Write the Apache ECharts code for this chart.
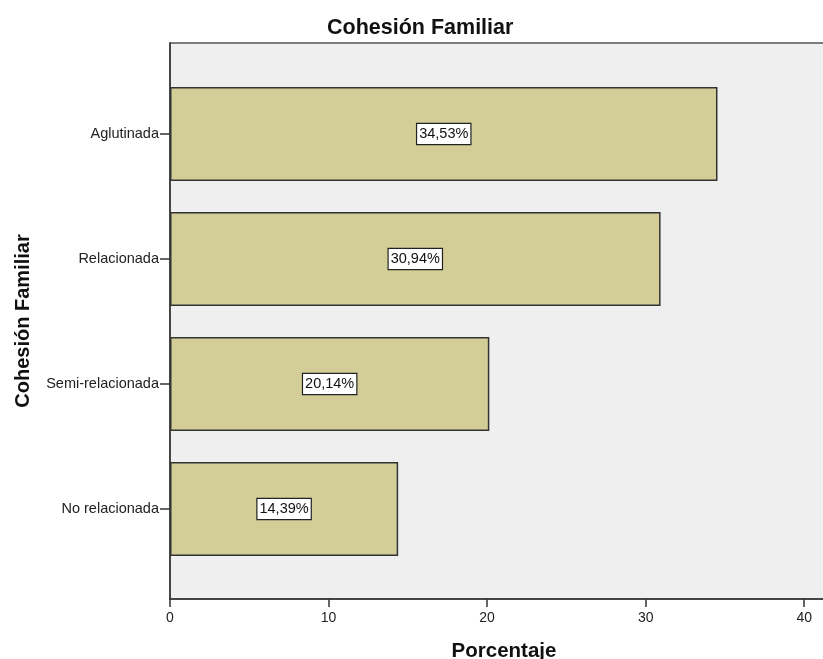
<!DOCTYPE html>
<html>
<head>
<meta charset="utf-8">
<script src="https://cdn.jsdelivr.net/npm/echarts@6/dist/echarts.min.js"></script>
<style>
  html, body { margin: 0; padding: 0; background: #fff; }
  #chart { width: 823px; height: 659px; }
</style>
</head>
<body>
<div id="chart"></div>
<script>
// Categories listed top to bottom
const categories = ['Aglutinada', 'Relacionada', 'Semi-relacionada', 'No relacionada'];
const percentages = [34.53, 30.94, 20.14, 14.39];
const xTickValues = [0, 10, 20, 30, 40];

const chartTitle = 'Cohesión Familiar';
const xAxisName = 'Porcentaje';
const yAxisName = 'Cohesión Familiar';

const FONT = 'Arial, "Liberation Sans", sans-serif';
const X_MAX = 41.5;

const chart = echarts.init(document.getElementById('chart'), null, { renderer: 'canvas' });

function fmtPct(v) {
  return v.toFixed(2).replace('.', ',') + '%';
}

chart.setOption({
  animation: false,
  title: {
    text: chartTitle,
    left: 322,
    top: 12,
    textStyle: { fontFamily: FONT, fontSize: 21.5, fontWeight: 'bold', color: '#111' }
  },
  grid: [
    {
      // outer frame with the grey plot background
      left: 170, top: 43, right: -5, bottom: 60,
      outerBoundsMode: 'none',
      containLabel: false,
      show: true,
      backgroundColor: '#efefef',
      borderColor: '#555',
      borderWidth: 1.5
    },
    {
      // inner band for the bars
      left: 170, top: 71.5, right: -5, height: 500,
      outerBoundsMode: 'none',
      containLabel: false
    }
  ],
  xAxis: [
    {
      gridIndex: 0,
      type: 'value',
      min: 0,
      max: X_MAX,
      interval: 10,
      name: xAxisName,
      nameLocation: 'middle',
      nameGap: 42,
      nameTextStyle: {
        fontFamily: FONT, fontSize: 20.5, fontWeight: 'bold', color: '#111',
        padding: [0, 0, 0, 10]
      },
      axisLine: { show: true, lineStyle: { color: '#333', width: 1.5 } },
      axisTick: { show: true, length: 8, lineStyle: { color: '#333', width: 1.5 } },
      axisLabel: {
        fontFamily: FONT, fontSize: 14, color: '#222', margin: 12,
        showMaxLabel: false,
        formatter: v => (xTickValues.indexOf(v) >= 0 ? String(v) : '')
      },
      splitLine: { show: false }
    },
    {
      gridIndex: 1,
      type: 'value',
      min: 0,
      max: X_MAX,
      show: false
    }
  ],
  yAxis: [
    {
      gridIndex: 0,
      type: 'value',
      min: 0,
      max: 1,
      name: yAxisName,
      nameLocation: 'middle',
      nameGap: 137,
      nameRotate: 90,
      nameTextStyle: { fontFamily: FONT, fontSize: 20, fontWeight: 'bold', color: '#111' },
      axisLine: { show: true, lineStyle: { color: '#333', width: 1.5 } },
      axisTick: { show: false },
      axisLabel: { show: false },
      splitLine: { show: false }
    },
    {
      gridIndex: 1,
      type: 'category',
      data: categories,
      inverse: true,
      axisLine: { show: false },
      axisTick: { show: true, alignWithLabel: true, length: 10, lineStyle: { color: '#333', width: 1.5 } },
      axisLabel: { fontFamily: FONT, fontSize: 14.5, color: '#222', margin: 11 }
    }
  ],
  series: [
    {
      type: 'bar',
      xAxisIndex: 1,
      yAxisIndex: 1,
      data: percentages,
      barWidth: 94,
      itemStyle: { color: '#d3ce97', borderColor: '#333', borderWidth: 1.5 },
      label: {
        show: true,
        position: 'inside',
        formatter: p => fmtPct(p.value),
        fontFamily: FONT,
        fontSize: 14.5,
        color: '#111',
        backgroundColor: '#fff',
        borderColor: '#222',
        borderWidth: 1.2,
        padding: [3, 2, 2, 2]
      }
    }
  ]
});
</script>
</body>
</html>
